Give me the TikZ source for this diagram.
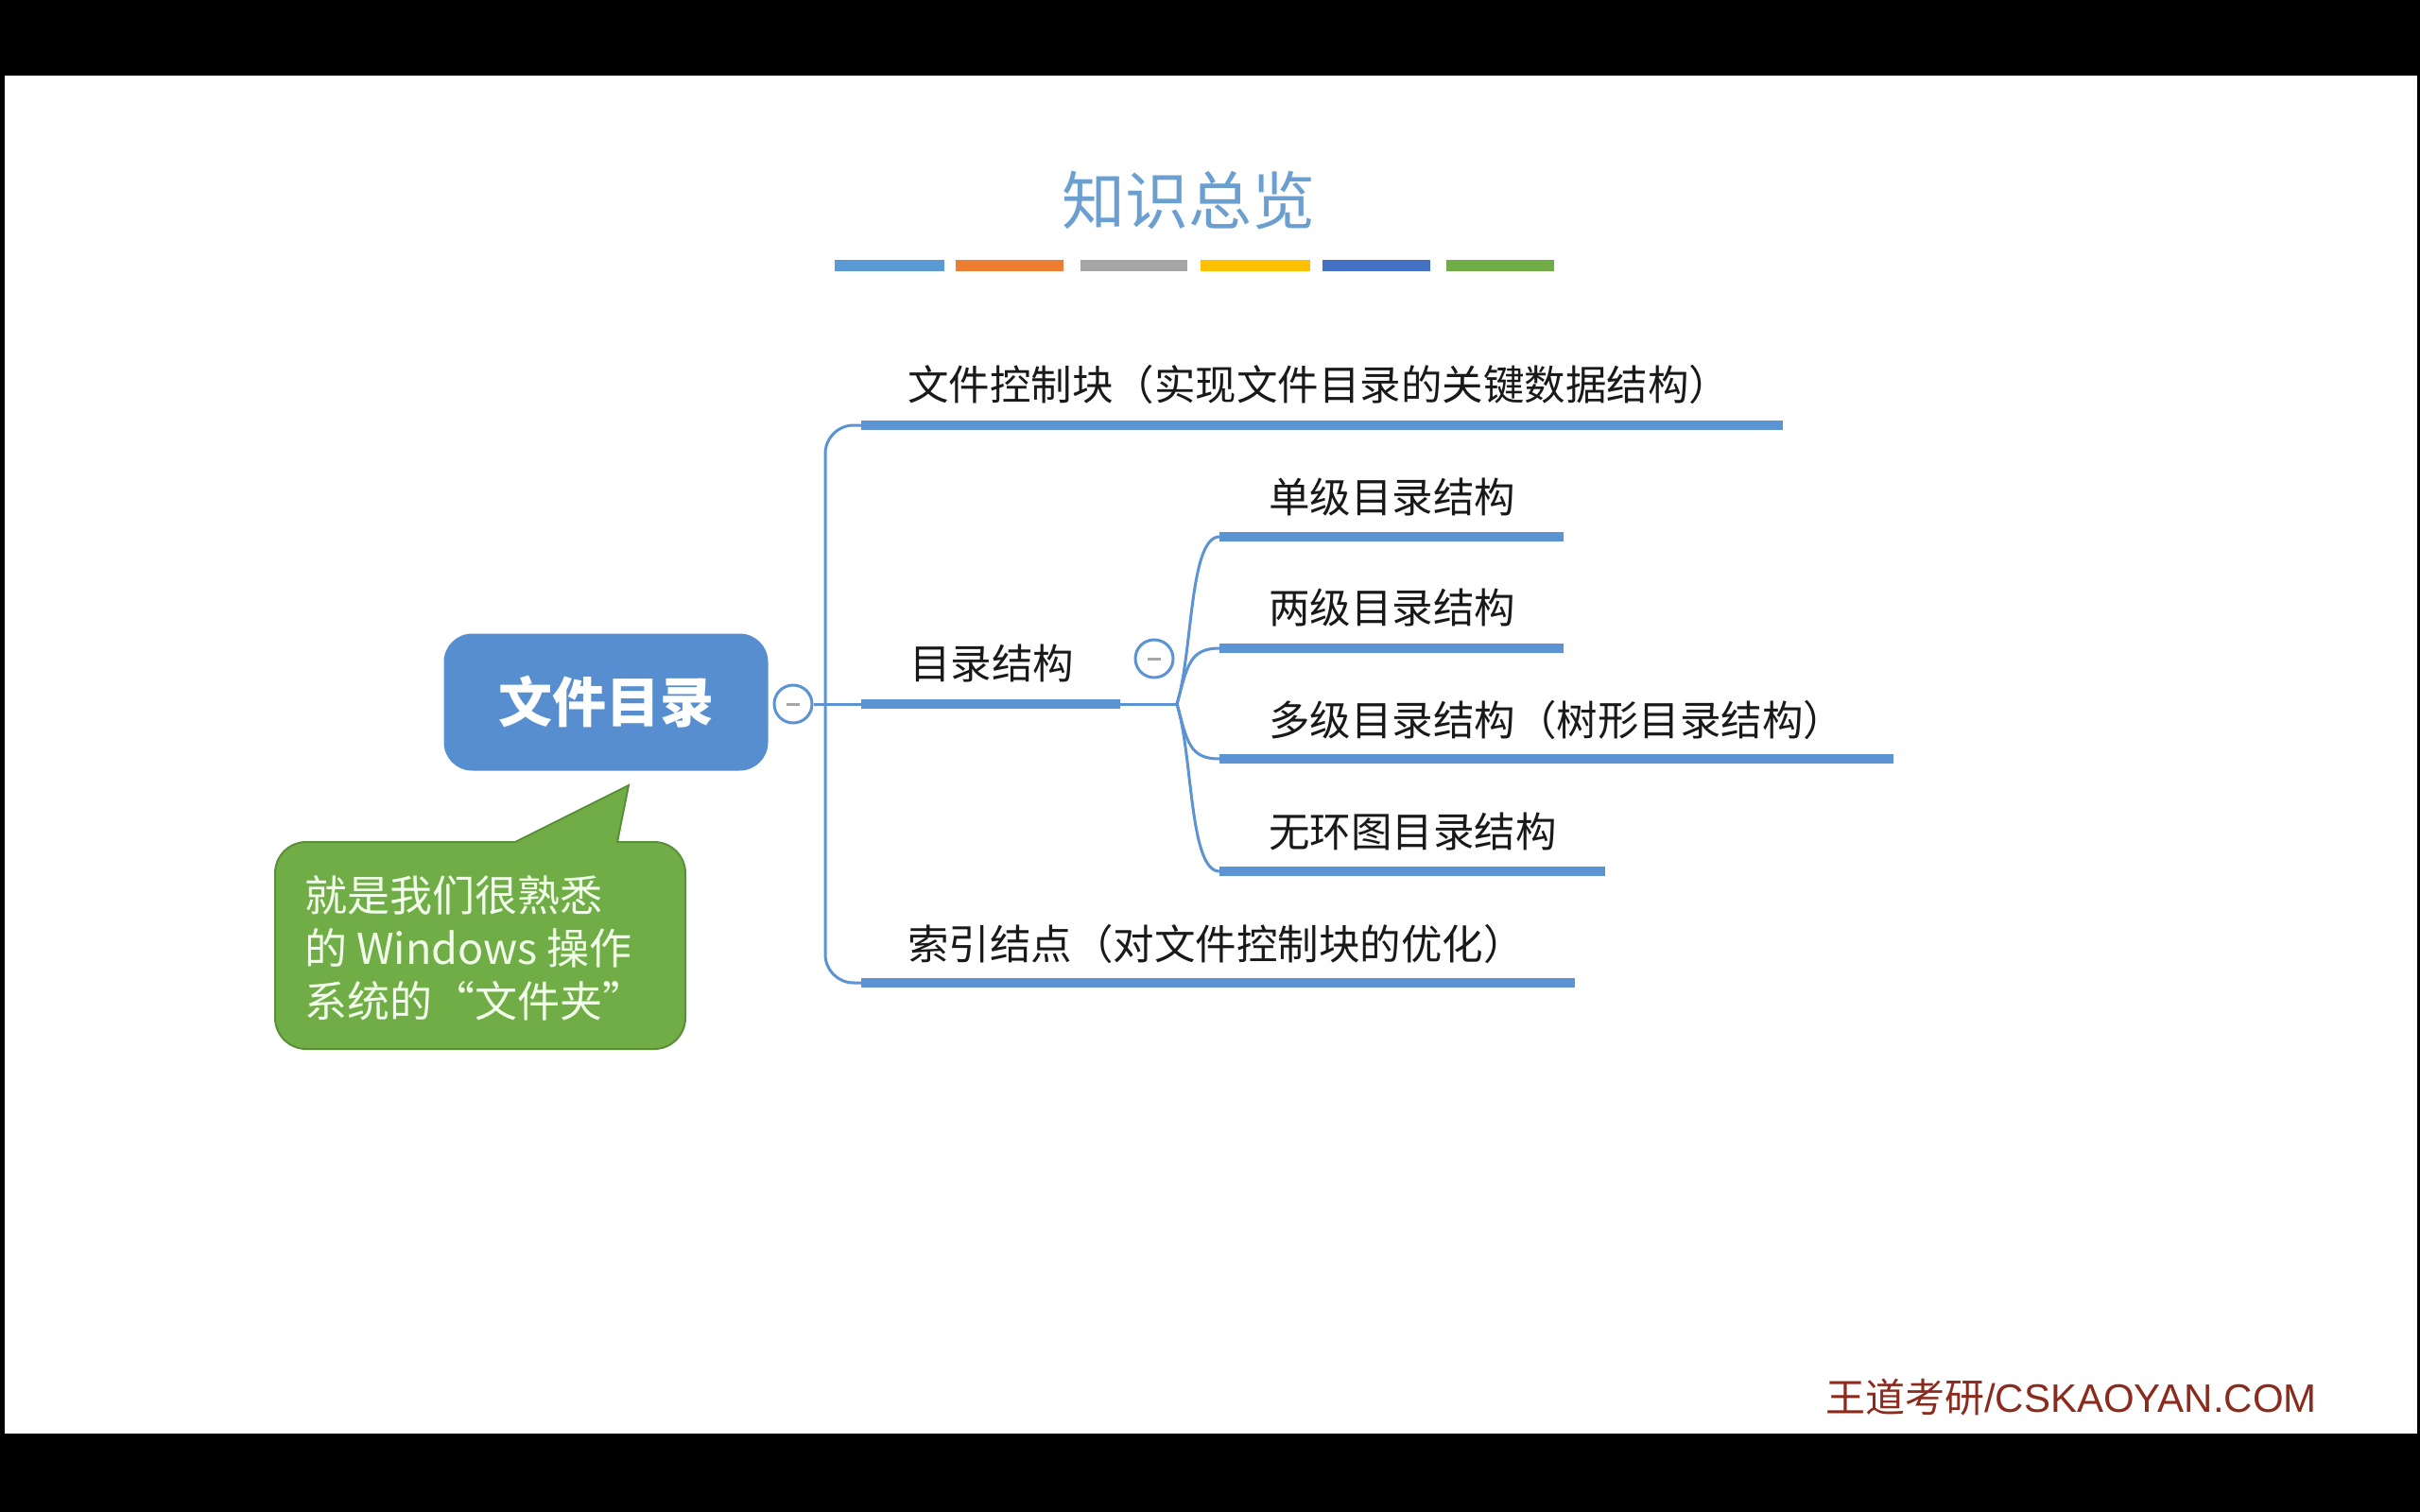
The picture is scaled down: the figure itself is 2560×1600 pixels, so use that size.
\documentclass[tikz,border=0pt]{standalone}
\usepackage{fontspec}
\setmainfont{Liberation Sans}
\newfontfamily\cjk{Noto Sans CJK SC}
\newfontfamily\arial{Liberation Sans}
\definecolor{lineblue}{HTML}{5B93D3}
\definecolor{rootblue}{HTML}{578ED0}
\definecolor{titleblue}{HTML}{6A9FD0}
\definecolor{notegreen}{HTML}{70AD47}
\definecolor{noteedge}{HTML}{5A8E38}
\definecolor{notetext}{HTML}{F2FFEA}
\definecolor{markred}{HTML}{8B2B1E}
\definecolor{barA}{HTML}{5B9BD5}
\definecolor{barB}{HTML}{ED7D31}
\definecolor{barC}{HTML}{A5A5A5}
\definecolor{barD}{HTML}{FFC000}
\definecolor{barE}{HTML}{4472C4}
\definecolor{barF}{HTML}{70AD47}
\begin{document}
\begin{tikzpicture}[x=1pt,y=-1pt,
  thinline/.style={draw=lineblue, line width=3pt},
  uline/.style={draw=lineblue, line width=10pt},
  lbl/.style={anchor=west, inner sep=0pt, text=black!90, font=\cjk\fontsize{43.5}{50}\selectfont},
  fold/.style={circle, draw=lineblue, line width=3pt, fill=white, minimum size=40pt, inner sep=0pt},
  rootbox/.style={rectangle, rounded corners=30pt, fill=rootblue, text=white, minimum width=343pt, minimum height=145pt, font=\cjk\bfseries\fontsize{57}{60}\selectfont},
]
\useasboundingbox (0,0) rectangle (2560,1600);
\fill[black] (0,0) rectangle (2560,1600);
\fill[white] (5,80) rectangle (2557,1517);

% title and colour bars
\node[text=titleblue, font=\cjk\fontsize{67}{70}\selectfont] (title) at (1257,212) {知识总览};
\foreach \a/\b/\c in {883/999/barA,1011/1125/barB,1143/1256/barC,1270/1386/barD,1399/1513/barE,1530/1644/barF}{
  \fill[\c] (\a,275) rectangle (\b,287);
}

% root
\node[rootbox] (root) at (641,743) {文件目录};
\node[fold] (f1) at (839,745) {};
\draw[gray!70, line width=3pt] ([xshift=-7pt]f1.center) -- ([xshift=7pt]f1.center);

% branch coordinates
\coordinate (b1s) at (911,450); \coordinate (b1e) at (1886,450);
\coordinate (b2s) at (911,745); \coordinate (b2e) at (1185,745);
\coordinate (b3s) at (911,1040); \coordinate (b3e) at (1666,1040);
\coordinate (trunkT) at (873,450); \coordinate (trunkB) at (873,1040);
\coordinate (fan) at (1245,745);
\coordinate (s1s) at (1290,568); \coordinate (s1e) at (1654,568);
\coordinate (s2s) at (1290,686); \coordinate (s2e) at (1654,686);
\coordinate (s3s) at (1290,803); \coordinate (s3e) at (2003,803);
\coordinate (s4s) at (1290,922); \coordinate (s4e) at (1698,922);

% trunk
\draw[thinline, rounded corners=30pt] (b1s) -- (trunkT) -- (trunkB) -- (b3s);
\draw[thinline] (f1.east) -- (b2s);
\draw[uline] (b1s) -- (b1e);
\draw[uline] (b2s) -- (b2e);
\draw[uline] (b3s) -- (b3e);

\node[lbl] (t1) at (960,407) {文件控制块（实现文件目录的关键数据结构）};
\node[lbl] (t2) at (962,702) {目录结构};
\node[lbl] (t3) at (960,999) {索引结点（对文件控制块的优化）};

% sub branches
\draw[thinline] (b2e) -- (fan);
\draw[thinline] (fan) .. controls (1262,690) and (1258,568) .. (s1s);
\draw[thinline] (fan) .. controls (1256,705) and (1258,686) .. (s2s);
\draw[thinline] (fan) .. controls (1256,785) and (1258,803) .. (s3s);
\draw[thinline] (fan) .. controls (1262,800) and (1258,922) .. (s4s);
\draw[uline] (s1s) -- (s1e);
\draw[uline] (s2s) -- (s2e);
\draw[uline] (s3s) -- (s3e);
\draw[uline] (s4s) -- (s4e);
\node[fold] (f2) at (1221,697) {};
\draw[gray!70, line width=3pt] ([xshift=-7pt]f2.center) -- ([xshift=7pt]f2.center);

\node[lbl] (u1) at (1342,526) {单级目录结构};
\node[lbl] (u2) at (1342,643) {两级目录结构};
\node[lbl] (u3) at (1342,762) {多级目录结构（树形目录结构）};
\node[lbl] (u4) at (1342,880) {无环图目录结构};

% callout
\filldraw[fill=notegreen, draw=noteedge, line width=2pt]
  (291,1000) [rounded corners=33pt]-- (291,891) [sharp corners]-- (545,891) -- (665,831) -- (653,891) [rounded corners=33pt]-- (725,891) -- (725,1110) -- (291,1110) -- cycle;
\node[anchor=west, inner sep=0pt, align=left, text=notetext, font=\cjk\fontsize{45}{56}\selectfont] (note) at (322,1003) {就是我们很熟悉\\的 Windows 操作\\系统的“文件夹”};

% watermark
\node[anchor=west, inner sep=0pt, text=markred, font=\fontsize{42}{48}\selectfont] (mark) at (1931,1479) {{\cjk 王道考研}{\arial /CSKAOYAN.COM}};
\end{tikzpicture}
\end{document}
